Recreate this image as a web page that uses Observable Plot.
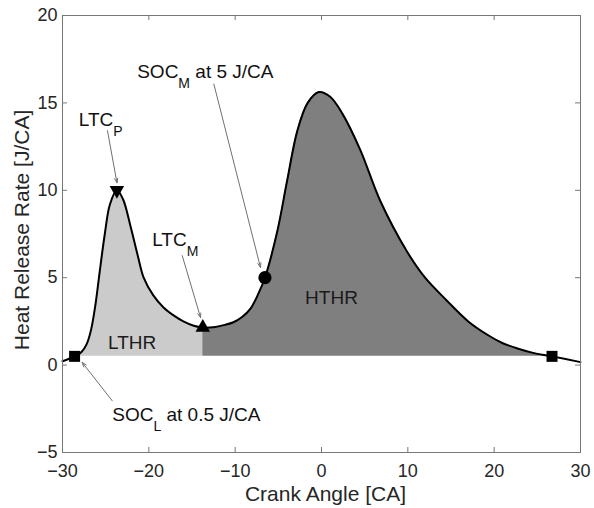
<!DOCTYPE html>
<html>
<head>
<meta charset="utf-8">
<script src="https://cdn.jsdelivr.net/npm/d3@7"></script>
<script src="https://cdn.jsdelivr.net/npm/@observablehq/plot@0.6"></script>
<style>
  body { margin: 0; background: #fff; }
</style>
</head>
<body>
<div id="chart"></div>
<script>
// Heat release rate curve
const crankAngle = [-30, -29.3, -28.6, -27.8, -27.2, -26.7, -26.2, -25.7, -25.1, -24.5, -23.7, -23.0, -22.1, -21.3, -20.6, -19.5, -18.3, -17.0, -16.0, -14.8, -13.75, -12.5, -11.2, -10.2, -9.2, -8.2, -7.3, -6.55, -5.1, -4.0, -2.8, -1.6, -0.3, 1.0, 2.4, 4.5, 6.8, 9.9, 12.0, 14.5, 17.0, 19.5, 21.0, 22.7, 24.5, 26.7, 30];
const heatRelease = [0.22, 0.35, 0.5, 0.75, 1.2, 2.0, 3.4, 5.3, 7.5, 9.2, 10.0, 9.5, 7.9, 6.3, 5.0, 4.0, 3.3, 2.8, 2.5, 2.25, 2.15, 2.17, 2.3, 2.45, 2.75, 3.25, 4.1, 5.0, 7.7, 10.5, 13.4, 15.0, 15.62, 15.35, 14.4, 12.3, 9.4, 6.5, 5.0, 3.7, 2.5, 1.65, 1.25, 0.95, 0.7, 0.5, 0.17];

// Ticks
const xTicks = [-30, -20, -10, 0, 10, 20, 30];
const yTicks = [-5, 0, 5, 10, 15, 20];

// Start-of-combustion threshold used as base of shaded regions
const socLevel = 0.5;

// Markers
const markerNames = ["SOC_L", "LTC_P", "LTC_M", "SOC_M", "EOC"];
const markerX = [-28.6, -23.7, -13.75, -6.55, 26.7];
const markerY = [0.5, 10.0, 2.15, 5.0, 0.5];
const markerShape = ["square", "triangleDown", "triangle", "circle", "square"];

// Annotations
const annotText = ["LTC_P", "SOC_M at 5 J/CA", "LTC_M", "SOC_L at 0.5 J/CA"];
const annotX = [-28.11, -21.35, -19.61, -24.24];
const annotY = [13.70, 16.43, 6.83, -3.19];
const arrowX1 = [-24.79, -12.47, -16.13, -24.24];
const arrowY1 = [13.41, 16.08, 6.26, -2.04];
const arrowX2 = [-23.69, -7.07, -14.01, -27.72];
const arrowY2 = [10.43, 5.59, 2.72, 0.15];

// Region labels
const regionNames = ["LTHR", "HTHR"];
const regionX = [-21.93, 1.16];
const regionY = [0.93, 3.51];

// ---- build tables ----
const curve = crankAngle.map((x, i) => ({x, y: heatRelease[i]}));
const lthr = curve.filter(d => d.x >= markerX[0] && d.x <= markerX[2]);
const hthr = curve.filter(d => d.x >= markerX[2] && d.x <= markerX[4]);

const sqrt3 = Math.sqrt(3);
const triangleDown = {
  draw(context, size) {
    const y = Math.sqrt(size / (sqrt3 * 3));
    context.moveTo(0, y * 2);
    context.lineTo(-sqrt3 * y, -y);
    context.lineTo(sqrt3 * y, -y);
    context.closePath();
  }
};
const symbolFor = {square: d3.symbolSquare, triangle: d3.symbolTriangle, triangleDown, circle: d3.symbolCircle};
const radiusFor = {square: 6.2, triangle: 5.4, triangleDown: 5.4, circle: 6.6};
const markers = markerNames.map((name, i) => ({name, x: markerX[i], y: markerY[i], shape: markerShape[i]}));
const annots = annotText.map((t, i) => ({t, x: annotX[i], y: annotY[i], x1: arrowX1[i], y1: arrowY1[i], x2: arrowX2[i], y2: arrowY2[i]}));
const regions = regionNames.map((t, i) => ({t, x: regionX[i], y: regionY[i]}));

const W = 594, H = 508;
const mL = 62, mR = 14, mT = 15, mB = 56;
const innerW = W - mL - mR, innerH = H - mT - mB;
const axisColor = "#777777";
const textColor = "#262626";
const font = "'Liberation Sans', Arial, Helvetica, sans-serif";

const svg = Plot.plot({
  width: W,
  height: H,
  marginLeft: mL, marginRight: mR, marginTop: mT, marginBottom: mB,
  style: {fontFamily: font, background: "#ffffff", color: textColor, overflow: "visible"},
  x: {domain: [-30, 30]},
  y: {domain: [-5, 20]},
  marks: [
    Plot.areaY(lthr, {x: "x", y1: socLevel, y2: "y", fill: "#cbcbcb", curve: "catmull-rom"}),
    Plot.areaY(hthr, {x: "x", y1: socLevel, y2: "y", fill: "#7f7f7f", curve: "catmull-rom"}),
    Plot.line(curve, {x: "x", y: "y", stroke: "#000", strokeWidth: 2, curve: "catmull-rom"}),
    Plot.arrow(annots, {x1: "x1", y1: "y1", x2: "x2", y2: "y2", stroke: "#707070", strokeWidth: 1, headLength: 7, headAngle: 40}),
    ...markerShape.filter((s, i, a) => a.indexOf(s) === i).map(shape =>
      Plot.dot(markers.filter(d => d.shape === shape), {x: "x", y: "y", symbol: symbolFor[shape], r: radiusFor[shape], fill: "#000", stroke: "none"})
    ),
    Plot.text(annots, {x: "x", y: "y", text: "t", textAnchor: "start", lineAnchor: "bottom", fontSize: 19, fill: "#111"}),
    Plot.text(regions, {x: "x", y: "y", text: "t", textAnchor: "middle", lineAnchor: "bottom", fontSize: 19, fill: "#1a1a1a"}),
    Plot.frame({stroke: axisColor, strokeWidth: 1}),
    Plot.tickX(xTicks, {x: d => d, stroke: axisColor, insetTop: innerH - 5}),
    Plot.tickX(xTicks, {x: d => d, stroke: axisColor, insetBottom: innerH - 5}),
    Plot.tickY(yTicks, {y: d => d, stroke: axisColor, insetRight: innerW - 5}),
    Plot.tickY(yTicks, {y: d => d, stroke: axisColor, insetLeft: innerW - 5}),
    Plot.axisX(xTicks, {tickSize: 0, tickPadding: 12, fontSize: 18, label: null, fill: textColor}),
    Plot.axisY(yTicks, {tickSize: 0, tickPadding: 5, fontSize: 18, label: null, fill: textColor}),
    Plot.text(["Crank Angle [CA]"], {text: d => d, frameAnchor: "bottom", textAnchor: "middle", dy: 48, dx: 4, lineAnchor: "bottom", fontSize: 21, fill: textColor}),
    Plot.text(["Heat Release Rate [J/CA]"], {text: d => d, frameAnchor: "left", textAnchor: "middle", rotate: -90, dx: -34, dy: -4, lineAnchor: "bottom", fontSize: 21, fill: textColor})
  ]
});

// subscripts: "ABC_X rest" -> ABC with subscript X
d3.select(svg).selectAll("text").each(function () {
  const t = this.textContent;
  const m = t.match(/^(.*?)_(\w)(.*)$/);
  if (!m || this.querySelector("tspan")) return;
  const sel = d3.select(this);
  sel.text(null);
  sel.append("tspan").text(m[1]);
  sel.append("tspan").attr("dy", 10).attr("font-size", 14).text(m[2]);
  if (m[3]) sel.append("tspan").attr("dy", -10).text(m[3]);
});

document.getElementById("chart").appendChild(svg);
</script>
</body>
</html>
